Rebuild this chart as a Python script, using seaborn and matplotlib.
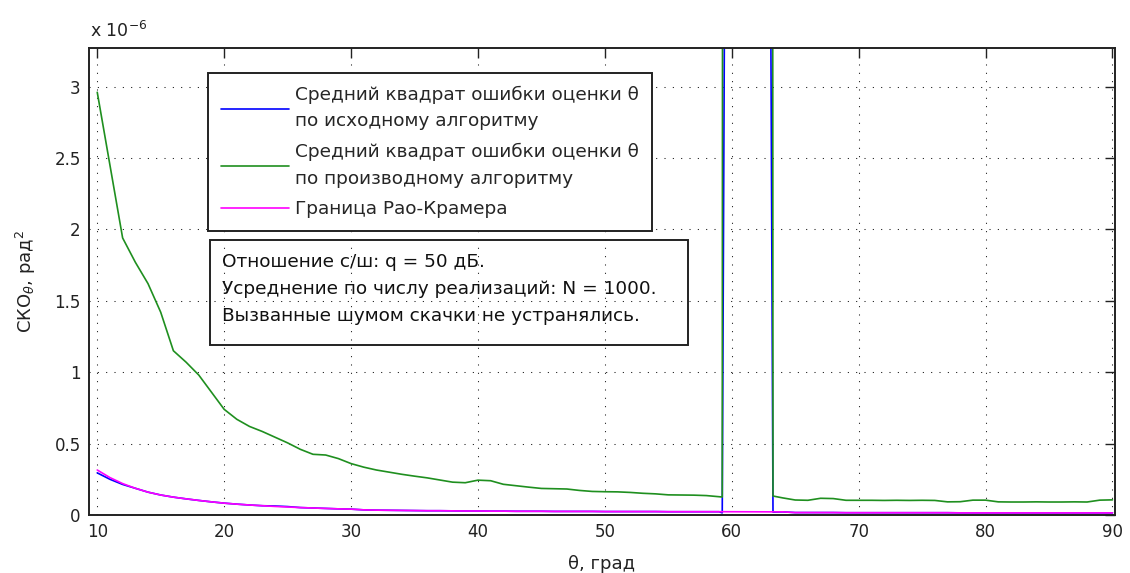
import numpy as np
import pandas as pd
import matplotlib
matplotlib.use("Agg")
import matplotlib.pyplot as plt
import matplotlib.ticker as mticker
from matplotlib.patches import Rectangle
import seaborn as sns

# Angle of arrival, degrees (extra samples around the noise-induced jumps)
theta = [10, 11, 12, 13, 14, 15, 16, 17, 18, 19,
         20, 21, 22, 23, 24, 25, 26, 27, 28, 29,
         30, 31, 32, 33, 34, 35, 36, 37, 38, 39,
         40, 41, 42, 43, 44, 45, 46, 47, 48, 49,
         50, 51, 52, 53, 54, 55, 56, 57, 58, 59,
         59.25, 59.5, 63.0, 63.25,
         64, 65, 66, 67, 68, 69,
         70, 71, 72, 73, 74, 75, 76, 77, 78, 79,
         80, 81, 82, 83, 84, 85, 86, 87, 88, 89, 90]

# Mean squared error, units of 1e-6 rad^2
mse_original = [0.295, 0.250, 0.214, 0.187, 0.160, 0.140, 0.125, 0.113, 0.102, 0.092,
                0.083, 0.076, 0.070, 0.065, 0.063, 0.059, 0.052, 0.049, 0.046, 0.043,
                0.041, 0.036, 0.034, 0.033, 0.032, 0.031, 0.030, 0.030, 0.029, 0.028,
                0.028, 0.027, 0.027, 0.026, 0.026, 0.026, 0.025, 0.025, 0.025, 0.025,
                0.024, 0.024, 0.024, 0.024, 0.024, 0.023, 0.023, 0.023, 0.023, 0.023,
                0.015, 5.0, 5.0, 0.020,
                0.022, 0.017, 0.017, 0.017, 0.017, 0.016,
                0.016, 0.016, 0.016, 0.016, 0.016, 0.016, 0.016, 0.016, 0.015, 0.015,
                0.015, 0.015, 0.015, 0.015, 0.015, 0.015, 0.015, 0.015, 0.015, 0.015, 0.015]

mse_derived = [2.96, 2.45, 1.94, 1.77, 1.62, 1.42, 1.15, 1.07, 0.98, 0.86,
               0.74, 0.67, 0.62, 0.585, 0.545, 0.505, 0.46, 0.425, 0.42, 0.395,
               0.36, 0.335, 0.315, 0.30, 0.285, 0.272, 0.26, 0.245, 0.23, 0.226,
               0.244, 0.24, 0.215, 0.205, 0.195, 0.186, 0.184, 0.182, 0.172, 0.165,
               0.163, 0.162, 0.158, 0.152, 0.148, 0.141, 0.140, 0.139, 0.136, 0.128,
               0.126, 40.0, 40.0, 0.133,
               0.120, 0.105, 0.103, 0.117, 0.115, 0.103,
               0.103, 0.103, 0.102, 0.103, 0.102, 0.103, 0.102, 0.092, 0.093, 0.104,
               0.104, 0.092, 0.091, 0.091, 0.092, 0.091, 0.091, 0.092, 0.091, 0.104, 0.106]

crb = [0.315, 0.262, 0.220, 0.187, 0.160, 0.140, 0.125, 0.113, 0.102, 0.092,
       0.083, 0.076, 0.070, 0.065, 0.060, 0.056, 0.052, 0.049, 0.046, 0.043,
       0.041, 0.036, 0.034, 0.033, 0.032, 0.031, 0.030, 0.030, 0.029, 0.028,
       0.028, 0.027, 0.027, 0.026, 0.026, 0.026, 0.025, 0.025, 0.025, 0.025,
       0.024, 0.024, 0.024, 0.024, 0.024, 0.023, 0.023, 0.023, 0.023, 0.023,
       0.023, 0.023, 0.022, 0.022,
       0.022, 0.017, 0.017, 0.017, 0.017, 0.016,
       0.016, 0.016, 0.016, 0.016, 0.016, 0.016, 0.016, 0.016, 0.015, 0.015,
       0.015, 0.015, 0.015, 0.015, 0.015, 0.015, 0.015, 0.015, 0.015, 0.015, 0.015]

SCALE = 1e-6

series_labels = ["Средний квадрат ошибки оценки θ\nпо исходному алгоритму",
                 "Средний квадрат ошибки оценки θ\nпо производному алгоритму",
                 "Граница Рао-Крамера"]
series_colors = ["#0000ff", "#1f8f1f", "#ff00ff"]

note_text = ("Отношение с/ш: q = 50 дБ.\n"
             "Усреднение по числу реализаций: N = 1000.\n"
             "Вызванные шумом скачки не устранялись.")

sns.set_style("white")
plt.rcParams["font.family"] = ["DejaVu Sans"]
plt.rcParams["mathtext.fontset"] = "dejavusans"

df = pd.DataFrame({
    "theta": theta,
    "original": np.array(mse_original) * SCALE,
    "derived": np.array(mse_derived) * SCALE,
    "crb": np.array(crb) * SCALE,
})

W, H = 1130, 573
fig = plt.figure(figsize=(W / 100, H / 100), dpi=100)
ax = fig.add_axes([89 / W, 1 - 515 / H, 1026 / W, 467 / H])

for col, lab, color in zip(["original", "derived", "crb"], series_labels, series_colors):
    sns.lineplot(data=df, x="theta", y=col, ax=ax, color=color, linewidth=1.2,
                 label=lab, sort=False, estimator=None)

ax.set_xlim(9.35, 90.2)
ax.set_ylim(0, 3.27 * SCALE)
ax.set_xticks(np.arange(10, 91, 10))
ax.set_yticks(np.arange(0, 3.01, 0.5) * SCALE)
ax.yaxis.set_major_formatter(mticker.FuncFormatter(lambda v, _: f"{v / SCALE:g}"))

ax.grid(True, color="#111111", linestyle=(0, (1, 7)), linewidth=0.75)
ax.tick_params(direction="in", length=7, width=1.0, top=True, right=True,
               labelsize=12, pad=6, colors="#222222")
for sp in ax.spines.values():
    sp.set_linewidth(1.4)
    sp.set_color("#222222")
    sp.set_visible(True)

ax.set_xlabel("θ, град", fontsize=13, labelpad=10, color="#222222")
ax.set_ylabel("СКО$_{\\theta}$, рад$^2$", fontsize=13, labelpad=12, color="#222222")

ax.text(0.001, 1.0236, "x 10$^{-6}$", transform=ax.transAxes, fontsize=12.5,
        ha="left", va="baseline", color="#222222")

leg = ax.legend(loc="upper left", bbox_to_anchor=(0.116, 0.946), borderaxespad=0,
                frameon=True, fancybox=False, edgecolor="#222222", framealpha=1,
                fontsize=13.3, handlelength=3.7, handletextpad=0.35, borderpad=0.68,
                labelspacing=0.68)
leg.get_frame().set_linewidth(1.4)
for t in leg.get_texts():
    t.set_linespacing(1.6)

ax.add_patch(Rectangle((0.118, 0.364), 0.466, 0.225, transform=ax.transAxes,
                       fill=False, edgecolor="#222222", linewidth=1.4, zorder=5))
ax.text(0.1296, 0.484, note_text, transform=ax.transAxes, fontsize=13.3,
        ha="left", va="center", linespacing=1.62, color="#111111", zorder=5)

fig.savefig("out.png", dpi=100)
